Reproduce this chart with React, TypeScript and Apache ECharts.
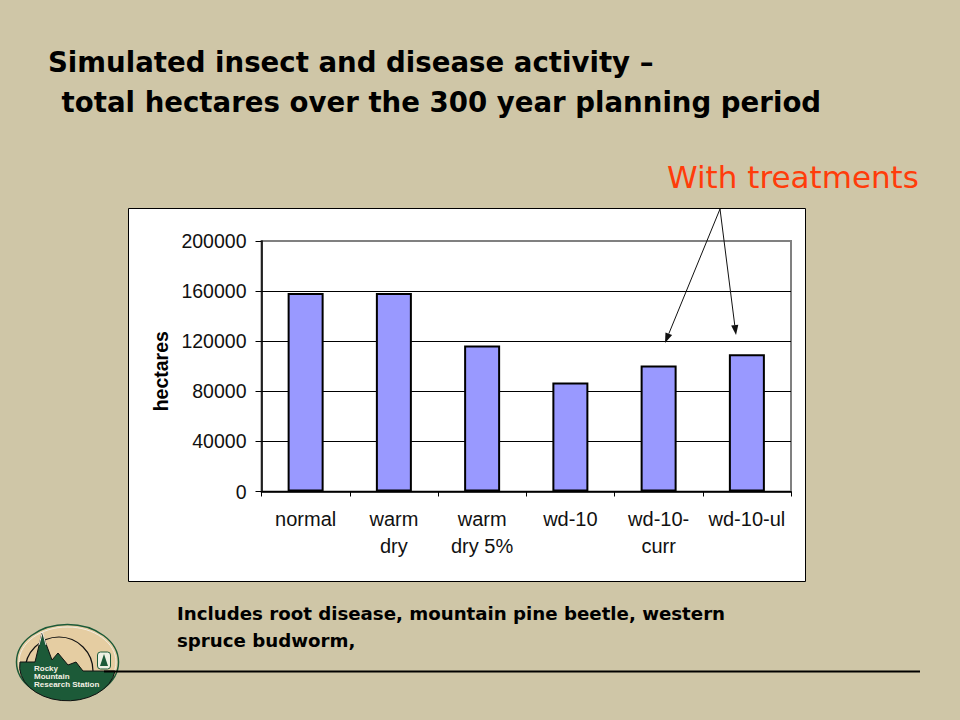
import React, { useEffect, useRef } from "react";
import * as echarts from "echarts";

const categories = ["normal", "warm\ndry", "warm\ndry 5%", "wd-10", "wd-10-\ncurr", "wd-10-ul"];
const hectares = [158500, 158500, 116500, 87000, 100500, 109500];
const titleLines = ["Simulated insect and disease activity –", " total hectares over the 300 year planning period"];
const noteLines = ["Includes root disease, mountain pine beetle, western", "spruce budworm,"];
const annotation = "With treatments";
const yAxisName = "hectares";
const logoLines = ["Rocky", "Mountain", "Research Station"];

const BG = "#cfc6a7";
const GREEN = "#1c5a38";
const SANS = "'Liberation Sans', Arial, sans-serif";
const COMIC = "'DejaVu Sans', sans-serif";

echarts.graphic.registerShape(
  "logoLand",
  echarts.graphic.extendPath(
    "M20 662 L35 662 L42 633 L52 660 L58 653 L68 665 L76 662 L83 671 L115 671 A47.5 34 0 0 1 20 662 Z",
    {}
  )
);

export default function App() {
  const ref = useRef<HTMLDivElement>(null);
  useEffect(() => {
    document.body.style.margin = "0";
    const chart = echarts.init(ref.current!, undefined, { renderer: "svg" });
    const txt = (text: string, x: number, y: number, font: any) => ({
      type: "text",
      x,
      y,
      z: 100,
      style: { text, fill: "#000", verticalAlign: "middle", ...font },
    });
    const arrow = (x1: number, y1: number, x2: number, y2: number) => {
      const a = Math.atan2(y2 - y1, x2 - x1);
      const L = 10;
      const W = 3.6;
      const bx = x2 - L * Math.cos(a);
      const by = y2 - L * Math.sin(a);
      return [
        { type: "line", z: 100, shape: { x1, y1, x2: bx, y2: by }, style: { stroke: "#111", lineWidth: 1 } },
        {
          type: "polygon",
          z: 100,
          shape: {
            points: [
              [x2, y2],
              [bx - W * Math.sin(a), by + W * Math.cos(a)],
              [bx + W * Math.sin(a), by - W * Math.cos(a)],
            ],
          },
          style: { fill: "#111" },
        },
      ];
    };
    chart.setOption({
      animation: false,
      backgroundColor: BG,
      grid: {
        left: 261.5,
        top: 241,
        width: 529.5,
        height: 250.5,
        show: true,
        borderColor: "#808080",
        borderWidth: 2,
        backgroundColor: "transparent",
      },
      xAxis: {
        type: "category",
        data: categories,
        axisLine: { lineStyle: { color: "#000", width: 1.5 } },
        axisTick: { show: true, length: 5, lineStyle: { color: "#000", width: 1 } },
        axisLabel: { color: "#111", fontFamily: SANS, fontSize: 20, lineHeight: 27, margin: 14, interval: 0 },
      },
      yAxis: {
        type: "value",
        min: 0,
        max: 200000,
        interval: 40000,
        name: yAxisName,
        nameLocation: "middle",
        nameGap: 91,
        nameTextStyle: { color: "#000", fontFamily: SANS, fontSize: 19.5, fontWeight: "bold", padding: [0, 0, 0, -10] },
        axisLine: { show: true, lineStyle: { color: "#000", width: 1.5 } },
        axisTick: { show: true, length: 6, lineStyle: { color: "#000", width: 1 } },
        axisLabel: {
          color: "#111",
          fontFamily: SANS,
          fontSize: 19.5,
          margin: 15,
          formatter: (v: number) => String(v),
        },
        splitLine: {
          show: true,
          lineStyle: { color: ["#000", "#000", "#000", "#000", "#000", "#808080"], width: 1.2 },
        },
      },
      series: [
        {
          type: "bar",
          data: hectares,
          barWidth: 36,
          z: 5,
          itemStyle: { color: "#9999ff", borderColor: "#000", borderWidth: 2 },
        },
      ],
      graphic: {
        elements: [
          {
            type: "rect",
            z: -10,
            shape: { x: 128.5, y: 208.5, width: 677, height: 373 },
            style: { fill: "#fff", stroke: "#000", lineWidth: 1 },
          },
          txt(titleLines[0], 48, 62, { font: `bold 27.6px ${COMIC}` }),
          txt(titleLines[1], 52, 102, { font: `bold 27.6px ${COMIC}` }),
          txt(annotation, 667, 177, { font: `31px ${COMIC}`, fill: "#ff3c0a" }),
          ...arrow(720, 209, 665, 343),
          ...arrow(720, 209, 736, 335),
          txt(noteLines[0], 177, 613, { font: `bold 18.2px ${COMIC}` }),
          txt(noteLines[1], 177, 640, { font: `bold 18.2px ${COMIC}` }),
          {
            type: "ellipse",
            z: 50,
            shape: { cx: 67.5, cy: 662, rx: 51, ry: 37.5 },
            style: { fill: "#e5cda2", stroke: GREEN, lineWidth: 1.5 },
          },
          {
            type: "ellipse",
            z: 51,
            shape: { cx: 67.5, cy: 662, rx: 48.5, ry: 35 },
            style: { fill: "none", stroke: "#f1ece0", lineWidth: 1 },
          },
          {
            type: "arc",
            z: 52,
            shape: { cx: 59, cy: 671, r: 34, startAngle: Math.PI, endAngle: Math.PI * 2 },
            style: { stroke: "#111", lineWidth: 1.2, fill: "none" },
          },
          { type: "logoLand", z: 53, style: { fill: GREEN, stroke: "#111", lineWidth: 1 } },
          {
            type: "polyline",
            z: 54,
            shape: { points: [[39, 645], [42.5, 632], [46, 645]] },
            style: { stroke: "#f1ece0", lineWidth: 1, fill: "none" },
          },
          {
            type: "rect",
            z: 54,
            shape: { x: 97.5, y: 652, width: 13, height: 17, r: 3 },
            style: { fill: "#eef0e2", stroke: GREEN, lineWidth: 1 },
          },
          {
            type: "polygon",
            z: 55,
            shape: { points: [[104, 654], [108, 666], [100, 666]] },
            style: { fill: GREEN },
          },
          txt(logoLines[0], 34, 668, { font: `bold 8px ${SANS}`, fill: "#f4f1e4" }),
          txt(logoLines[1], 34, 676, { font: `bold 8px ${SANS}`, fill: "#f4f1e4" }),
          txt(logoLines[2], 34, 684, { font: `bold 8px ${SANS}`, fill: "#f4f1e4" }),
          {
            type: "line",
            z: 60,
            shape: { x1: 104, y1: 671.5, x2: 920, y2: 671.5 },
            style: { stroke: "#000", lineWidth: 2 },
          },
        ],
      },
    });
    return () => chart.dispose();
  }, []);
  return <div ref={ref} style={{ position: "fixed", left: 0, top: 0, width: 960, height: 720 }} />;
}
